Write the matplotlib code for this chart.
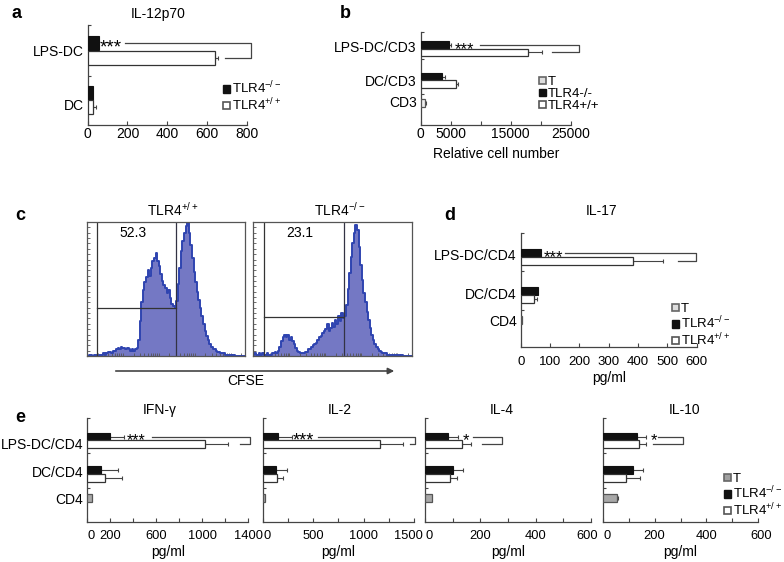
import numpy as np
import matplotlib
matplotlib.use("Agg")
import matplotlib.pyplot as plt
import matplotlib.transforms as mtransforms
from matplotlib.patches import Patch, FancyArrowPatch
from matplotlib.ticker import FixedLocator, MultipleLocator

plt.rcParams["font.family"] = ["Liberation Sans", "DejaVu Sans"]
plt.rcParams["font.size"] = 10
plt.rcParams["mathtext.fontset"] = "custom"
plt.rcParams["mathtext.rm"] = "Liberation Sans"
plt.rcParams["mathtext.default"] = "rm"

# ---- values ----
# a: IL-12p70
il12_groups = ["LPS-DC", "DC"]
il12_ko = [55, 28]
il12_ko_err = [0, 0]
il12_wt = [641, 28]
il12_wt_err = [16, 12]

# b: relative cell number
cell_groups = ["LPS-DC/CD3", "DC/CD3", "CD3"]
cell_ko = [4720, 3500]
cell_ko_err = [330, 550]
cell_wt = [17940, 5880]
cell_wt_err = [2230, 390]
cell_t = [670]
cell_t_err = [160]

# c: CFSE dilution histograms (fraction of max, 101 bins across the axis)
cfse_wt = [0.01, 0.00, 0.01, 0.01, 0.00, 0.01, 0.01, 0.00, 0.01, 0.01,
           0.01, 0.02, 0.01, 0.02, 0.03, 0.03, 0.02, 0.04, 0.04, 0.05,
           0.06, 0.05, 0.07, 0.06, 0.06, 0.05, 0.06, 0.05, 0.04, 0.05,
           0.04, 0.05, 0.06, 0.12, 0.26, 0.40, 0.49, 0.55, 0.59, 0.64,
           0.60, 0.66, 0.71, 0.73, 0.77, 0.71, 0.67, 0.61, 0.56, 0.53,
           0.51, 0.47, 0.49, 0.43, 0.39, 0.37, 0.36, 0.41, 0.54, 0.66,
           0.78, 0.86, 0.92, 0.97, 0.99, 0.92, 0.83, 0.73, 0.63, 0.55,
           0.48, 0.42, 0.36, 0.30, 0.24, 0.19, 0.15, 0.12, 0.09, 0.07,
           0.05, 0.05, 0.04, 0.03, 0.03, 0.02, 0.02, 0.02, 0.01, 0.01,
           0.01, 0.01, 0.00, 0.01, 0.00, 0.00, 0.00, 0.00, 0.00, 0.00, 0.00]
cfse_ko = [0.01, 0.02, 0.01, 0.01, 0.02, 0.01, 0.02, 0.01, 0.01, 0.02,
           0.01, 0.01, 0.02, 0.02, 0.03, 0.02, 0.04, 0.07, 0.11, 0.14,
           0.16, 0.14, 0.16, 0.12, 0.14, 0.11, 0.09, 0.06, 0.04, 0.03,
           0.02, 0.02, 0.02, 0.03, 0.03, 0.05, 0.05, 0.07, 0.08, 0.09,
           0.10, 0.12, 0.14, 0.15, 0.17, 0.19, 0.20, 0.24, 0.19, 0.21,
           0.25, 0.22, 0.27, 0.24, 0.30, 0.26, 0.32, 0.28, 0.30, 0.38,
           0.50, 0.62, 0.74, 0.84, 0.92, 0.98, 0.94, 0.81, 0.68, 0.57,
           0.47, 0.40, 0.33, 0.27, 0.21, 0.16, 0.12, 0.09, 0.07, 0.05,
           0.04, 0.03, 0.02, 0.02, 0.02, 0.01, 0.01, 0.01, 0.01, 0.01,
           0.01, 0.00, 0.01, 0.00, 0.01, 0.00, 0.00, 0.00, 0.00, 0.00, 0.00]
cfse_titles = ["TLR4$^{+/+}$", "TLR4$^{-/-}$"]
cfse_pct = ["52.3", "23.1"]
cfse_gate_left = [0.063, 0.067]
cfse_gate_split = [0.562, 0.575]
cfse_gate_level = [0.355, 0.29]

# d: IL-17
cd4_groups = ["LPS-DC/CD4", "DC/CD4", "CD4"]
il17_ko = [68, 58]
il17_ko_err = [0, 0]
il17_wt = [384, 46]
il17_wt_err = [101, 9]
il17_t = [5]
il17_t_err = [0]

# e: cytokines
ifng_ko = [197, 119]
ifng_ko_err = [122, 151]
ifng_wt = [1023, 155]
ifng_wt_err = [203, 144]
ifng_t = [38]
ifng_t_err = [0]

il2_ko = [155, 132]
il2_ko_err = [132, 105]
il2_wt = [1163, 145]
il2_wt_err = [231, 53]
il2_t = [23]
il2_t_err = [0]

il4_ko = [84, 100]
il4_ko_err = [36, 36]
il4_wt = [133, 90]
il4_wt_err = [32, 27]
il4_t = [24]
il4_t_err = [0]

il10_ko = [131, 118]
il10_ko_err = [36, 39]
il10_wt = [141, 90]
il10_wt_err = [26, 54]
il10_t = [54]
il10_t_err = [6]

# significance: label, star x, bracket top start, bracket right, bracket bottom start
il12_sig = ["***", 62, 188, 820, 691]
cell_sig = ["***", 5750, 9880, 26430, 21830]
il17_sig = ["***", 78, 151, 598, 536]
ifng_sig = ["***", 340, 560, 1415, 1328]
il2_sig = ["***", 300, 551, 1510, 1460]
il4_sig = ["*", 136, 175, 277, 205]
il10_sig = ["*", 186, 214, 311, 195]

KO_LBL = "TLR4$^{-/-}$"
WT_LBL = "TLR4$^{+/+}$"
KO_C = "#111111"
LINE_C = "#444444"

W, H = 784, 562
fig = plt.figure(figsize=(W / 100, H / 100), dpi=100)


def px_axes(l, t, r, b):
    return fig.add_axes([l / W, 1 - b / H, (r - l) / W, (b - t) / H])


def ftext(x, y, s, **kw):
    fig.text(x / W, 1 - y / H, s, ha=kw.pop("ha", "center"), va=kw.pop("va", "center"), **kw)


def style_bar_axes(ax, height, xmax, step, labelled, ylabels, ylabel_pos, yminor, pad, fs=10):
    ax.set_xlim(0, xmax)
    ax.set_ylim(height, 0)
    for s in ("top", "right"):
        ax.spines[s].set_visible(False)
    for s in ("left", "bottom"):
        ax.spines[s].set_color(LINE_C)
        ax.spines[s].set_linewidth(0.9)
    ticks = list(np.arange(0, xmax + 1, step))
    ax.set_xticks(ticks)
    ax.set_xticklabels([str(int(v)) if v in labelled else "" for v in ticks], fontsize=fs)
    ax.tick_params(axis="x", direction="in", length=3, width=0.8, color=LINE_C, pad=pad)
    ax.set_yticks(ylabel_pos)
    ax.set_yticklabels(ylabels if ylabels else [""] * len(ylabel_pos), fontsize=10)
    ax.tick_params(axis="y", length=0, pad=3)
    ax.yaxis.set_minor_locator(FixedLocator(yminor))
    ax.tick_params(axis="y", which="minor", direction="in", length=2.5, width=0.8, color=LINE_C)
    ax.patch.set_alpha(0)


def shift_label(label, dx_px):
    label.set_transform(label.get_transform() +
                        mtransforms.ScaledTranslation(dx_px / 100, 0, fig.dpi_scale_trans))


def draw_bars(ax, pos_ko, pos_wt, bh, ko, ko_err, wt, wt_err, pos_t=None, t=None, t_err=None, t_color=None):
    ekw = dict(fmt="none", ecolor=LINE_C, elinewidth=0.8, capsize=1.5, capthick=0.8, zorder=2)
    ax.barh(pos_ko, ko, bh, color=KO_C, edgecolor=KO_C, linewidth=0.8, zorder=3)
    ax.barh(pos_wt, wt, bh, color="white", edgecolor="#333333", linewidth=0.9, zorder=3)
    series = [(pos_ko, ko, ko_err), (pos_wt, wt, wt_err)]
    if t is not None:
        ax.barh(pos_t, t, bh, color=t_color, edgecolor="#555555", linewidth=0.9, zorder=3)
        series.append((pos_t, t, t_err))
    for pos, val, err in series:
        m = np.array(err) > 0
        if m.any():
            ax.errorbar(np.array(val)[m], np.array(pos)[m],
                        xerr=[np.zeros(m.sum()), np.array(err)[m]], **ekw)


def bracket(ax, y_top, y_bot, sig, fs=12, star_dy=4.5):
    label, sx, x_top, x_right, x_bot = sig
    ax.plot([x_top, x_right, x_right, x_bot], [y_top, y_top, y_bot, y_bot],
            color=LINE_C, lw=0.9, clip_on=False, zorder=4)
    ax.text(sx, y_top + star_dy, label, ha="left", va="center", fontsize=fs, zorder=5)


def legend(ax, handles, labels, left, top, fs=9.5):
    ax.legend(handles, labels, loc="upper left", bbox_to_anchor=(left / W, 1 - top / H),
              bbox_transform=fig.transFigure, frameon=False, fontsize=fs,
              handlelength=0.5, handleheight=0.5, handletextpad=0.2,
              labelspacing=0.0, borderpad=0, borderaxespad=0)


h_ko = Patch(facecolor=KO_C, edgecolor=KO_C)
h_wt = Patch(facecolor="white", edgecolor="#555555", linewidth=1.2)
h_t_light = Patch(facecolor="#dddddd", edgecolor="#666666", linewidth=1.2)
h_t_dark = Patch(facecolor="#a0a0a0", edgecolor="#666666", linewidth=1.2)

# ---- a ----
ax_a = px_axes(87.7, 25, 246.7, 125)
style_bar_axes(ax_a, 100, 800, 200, [0, 200, 400, 600, 800], il12_groups, [25, 80], [0, 51], 1.5)
draw_bars(ax_a, [18, 67.5], [32.5, 82], 14, il12_ko, il12_ko_err, il12_wt, il12_wt_err)
bracket(ax_a, 18, 32.5, il12_sig, fs=13.5, star_dy=5)
legend(ax_a, [h_ko, h_wt], [KO_LBL, WT_LBL], 223, 80)
ftext(158, 14, "IL-12p70")
ftext(17, 14, "a", fontsize=13, fontweight="bold")

# ---- b ----
ax_b = px_axes(420.7, 31.7, 570.7, 125)
style_bar_axes(ax_b, 93.3, 25000, 5000, [0, 5000, 15000, 25000], cell_groups, [15, 48.5, 70], [0, 27, 62], 1.5)
draw_bars(ax_b, [13.3, 45.3], [20.6, 52.5], 7.5, cell_ko, cell_ko_err, cell_wt, cell_wt_err,
          [71.1], cell_t, cell_t_err, "#eeeeee")
bracket(ax_b, 13.3, 20.6, cell_sig)
legend(ax_b, [h_t_light, h_ko, h_wt], ["T", "TLR4-/-", "TLR4+/+"], 539, 76)
ax_b.set_xlabel("Relative cell number", fontsize=10)
ax_b.xaxis.set_label_coords(0.5, -22 / 93.3)
ftext(345, 14, "b", fontsize=13, fontweight="bold")

# ---- c ----
cfse_x = np.linspace(0, 1, len(cfse_wt))
boxes = [(86.7, 245), (253.3, 411.7)]
log_ticks = [(d + np.log10(k)) / 4.4 for d in range(5) for k in range(1, 10)]
log_ticks = [v for v in log_ticks if v <= 1]
for i, counts in enumerate([cfse_wt, cfse_ko]):
    ax = px_axes(boxes[i][0], 222, boxes[i][1], 356)
    ax.set_xlim(0, 1)
    ax.set_ylim(0, 1)
    ax.fill_between(cfse_x, counts, step="mid", color="#7478c4", lw=0)
    ax.step(cfse_x, counts, where="mid", color="#2f44b0", lw=1.4)
    gl, gs, gv = cfse_gate_left[i], cfse_gate_split[i], cfse_gate_level[i]
    ax.plot([gl, gl], [0, 1], color="#333333", lw=0.9)
    ax.plot([gs, gs], [0, 1], color="#333344", lw=0.9)
    ax.plot([gl, gs], [gv, gv], color="#333333", lw=0.9)
    ax.text(0.295, 0.92, cfse_pct[i], transform=ax.transAxes, ha="center", va="center", fontsize=10)
    for s in ax.spines.values():
        s.set_color("#555555")
        s.set_linewidth(0.9)
    ax.set_xticks(log_ticks)
    ax.yaxis.set_major_locator(MultipleLocator(0.04))
    ax.tick_params(direction="in", length=2, width=0.6, color="#555555",
                   labelleft=False, labelbottom=False)
    ftext((boxes[i][0] + boxes[i][1]) / 2 + 7, 210, cfse_titles[i])
arrow = FancyArrowPatch((113 / W, 1 - 371 / H), (397 / W, 1 - 371 / H), transform=fig.transFigure,
                        arrowstyle="-|>", mutation_scale=9, color="#444444", lw=1.2)
fig.add_artist(arrow)
ftext(246, 381, "CFSE")
ftext(20, 216, "c", fontsize=13, fontweight="bold")

# ---- d ----
ax_d = px_axes(520.7, 233, 696.7, 347.3)
style_bar_axes(ax_d, 114.3, 600, 100, [0, 100, 200, 300, 400, 500, 600], cd4_groups, [21, 60.5, 87],
               [0, 38, 77], 6, fs=9.5)
draw_bars(ax_d, [20, 58.3], [28, 66], 8, il17_ko, il17_ko_err, il17_wt, il17_wt_err,
          [87], il17_t, il17_t_err, "#eeeeee")
bracket(ax_d, 20, 28, il17_sig)
legend(ax_d, [h_t_light, h_ko, h_wt], ["T", KO_LBL, WT_LBL], 672, 303)
ax_d.set_xlabel("pg/ml", fontsize=10)
ax_d.xaxis.set_label_coords(0.5, -24 / 114.3)
ftext(602, 211, "IL-17")
ftext(450, 216, "d", fontsize=13, fontweight="bold")

# ---- e ----
e_boxes = [(87.3, 248.3), (262.7, 414), (425, 591), (602.7, 758.3)]
e_titles = ["IFN-\u03b3", "IL-2", "IL-4", "IL-10"]
e_title_x = [160, 340, 502, 685]
e_xmax = [1400, 1500, 600, 600]
e_step = [200, 250, 100, 100]
e_labelled = [[0, 200, 600, 1000, 1400], [0, 500, 1000, 1500], [0, 200, 400, 600], [0, 200, 400, 600]]
e_last_shift = [0, -6, -4, 3]
e_ko = [ifng_ko, il2_ko, il4_ko, il10_ko]
e_ko_err = [ifng_ko_err, il2_ko_err, il4_ko_err, il10_ko_err]
e_wt = [ifng_wt, il2_wt, il4_wt, il10_wt]
e_wt_err = [ifng_wt_err, il2_wt_err, il4_wt_err, il10_wt_err]
e_t = [ifng_t, il2_t, il4_t, il10_t]
e_t_err = [ifng_t_err, il2_t_err, il4_t_err, il10_t_err]
e_sig = [ifng_sig, il2_sig, il4_sig, il10_sig]
e_star_fs = [11.5, 13, 12, 12]
for i in range(4):
    ax = px_axes(e_boxes[i][0], 418, e_boxes[i][1], 522)
    style_bar_axes(ax, 104, e_xmax[i], e_step[i], e_labelled[i], cd4_groups if i == 0 else None,
                   [25.3, 53.7, 80.3], [0, 35, 70], 5.5, fs=9.3)
    labels = ax.get_xticklabels()
    shift_label(labels[0], 4)
    shift_label(labels[-1], e_last_shift[i])
    draw_bars(ax, [18.5, 52.3], [26.2, 60.3], 8, e_ko[i], e_ko_err[i], e_wt[i], e_wt_err[i],
              [80], e_t[i], e_t_err[i], "#a8a8a8")
    bracket(ax, 18.5, 26.2, e_sig[i], fs=e_star_fs[i])
    ax.set_xlabel("pg/ml", fontsize=10)
    ax.xaxis.set_label_coords(0.5, -23 / 104)
    ftext(e_title_x[i], 410, e_titles[i])
    if i == 3:
        legend(ax, [h_t_dark, h_ko, h_wt], ["T", KO_LBL, WT_LBL], 724, 473)
ftext(20, 417, "e", fontsize=13, fontweight="bold")

fig.savefig("out.png", dpi=100)
